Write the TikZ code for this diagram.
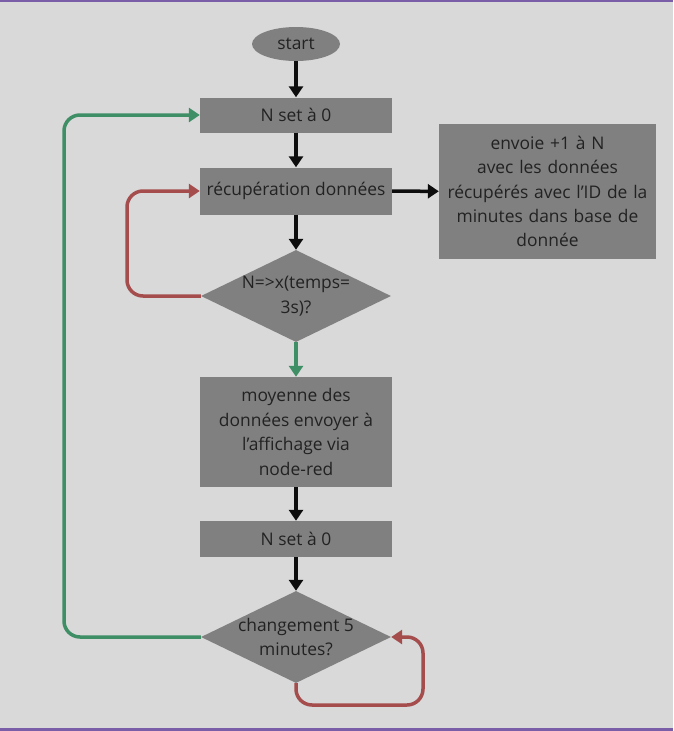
\documentclass[tikz,border=0pt]{standalone}
\usepackage{fontspec}
\setmainfont{Open Sans}
\usetikzlibrary{shapes.geometric,arrows.meta}
\definecolor{bgcol}{HTML}{D9D9D9}
\definecolor{framecol}{HTML}{7B5EA8}
\definecolor{boxcol}{HTML}{808080}
\definecolor{txtcol}{HTML}{222222}
\definecolor{yescol}{HTML}{3E8E66}
\definecolor{nocol}{HTML}{A54D4D}
\tikzset{
  every node/.style={font=\fontsize{17.4}{24.4}\selectfont, text=txtcol},
  procbox/.style={rectangle, fill=boxcol, minimum width=192pt, inner sep=0pt, align=center},
  startnode/.style={ellipse, fill=boxcol, minimum width=88pt, minimum height=34pt, inner sep=0pt},
  decision/.style={diamond, fill=boxcol, minimum width=190pt, minimum height=92pt, inner sep=0pt},
  dtext/.style={align=center, inner sep=0pt},
  flow/.style={line width=3.5pt, -{Triangle[width=14pt,length=11pt]}, black!95},
  yesline/.style={flow, yescol, rounded corners=16pt},
  noline/.style={flow, nocol, rounded corners=16pt}
}
\begin{document}
\begin{tikzpicture}[x=1pt,y=-1pt]
    % background and frame
    \fill[bgcol] (0,0) rectangle (673,731);
    \fill[framecol] (0,0) rectangle (673,2);
    \fill[framecol] (0,728) rectangle (673,731);
    \useasboundingbox (0,0) rectangle (673,731);
    % nodes
    \node[startnode] (start) at (296,44) {start};
    \node[procbox, minimum height=35pt] (n1) at (296,115) {N set à 0};
    \node[procbox, minimum height=47pt] (rec) at (296,191) {récupération données};
    \node[procbox, minimum width=217pt, minimum height=135pt, text width=212pt] (db) at (547.5,191.5)
      {envoie +1 à N\\avec les données\\récupérés avec l’ID de la\\minutes dans base de\\donnée};
    \node[decision, label={[dtext]center:N=>x(temps=\\3s)?}] (d1) at (296,296) {};
    \node[procbox, minimum height=110pt] (avg) at (296,432)
      {moyenne des\\données envoyer à\\l’affichage via\\node-red};
    \node[procbox, minimum height=36pt] (n2) at (296,539) {N set à 0};
    \node[decision, label={[dtext]center:changement 5\\minutes?}] (d2) at (296,637) {};
    % loop corners
    \coordinate (gl) at (64,376);
    \coordinate (rl) at (127,240);
    \coordinate (rb) at (423,705);
    % straight arrows
    \draw[flow] (start) -- (n1);
    \draw[flow] (n1) -- (rec);
    \draw[flow] (rec) -- (d1);
    \draw[flow] (rec) -- (db);
    \draw[yesline] (d1) -- (avg);
    \draw[flow] (avg) -- (n2);
    \draw[flow] (n2) -- (d2);
    % loops
    \draw[noline] (d1.west) -| (rl) |- (rec.west);
    \draw[yesline] (d2.west) -| (gl) |- (n1.west);
    \draw[noline] (d2.south) |- (rb) |- (d2.east);
\end{tikzpicture}
\end{document}
